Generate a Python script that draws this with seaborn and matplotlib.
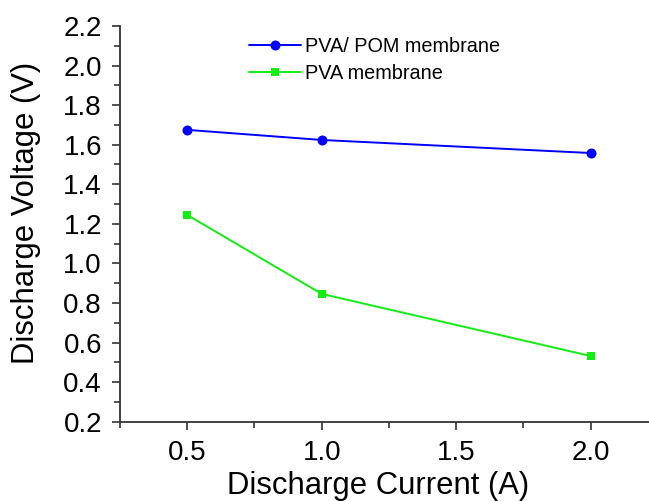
import matplotlib
matplotlib.use("Agg")
import matplotlib.pyplot as plt
import seaborn as sns
import pandas as pd
from matplotlib.ticker import MultipleLocator

currents = [0.5, 1.0, 2.0]
pva_pom = [1.675, 1.624, 1.558]
pva = [1.245, 0.846, 0.532]
series_names = ["PVA/ POM membrane", "PVA membrane"]
x_ticks = [0.5, 1.0, 1.5, 2.0]
x_tick_labels = ["0.5", "1.0", "1.5", "2.0"]
y_ticks = [0.2, 0.4, 0.6, 0.8, 1.0, 1.2, 1.4, 1.6, 1.8, 2.0, 2.2]
y_tick_labels = ["0.2", "0.4", "0.6", "0.8", "1.0", "1.2", "1.4", "1.6", "1.8", "2.0", "2.2"]

sns.set_style("ticks")
plt.rcParams['font.family'] = ['Liberation Sans', 'DejaVu Sans']
plt.rcParams['text.color'] = 'black'
plt.rcParams['axes.labelcolor'] = 'black'
plt.rcParams['xtick.color'] = 'black'
plt.rcParams['ytick.color'] = 'black'

df = pd.DataFrame({
    "current": currents * 2,
    "voltage": pva_pom + pva,
    "series": [series_names[0]] * 3 + [series_names[1]] * 3,
})

fig = plt.figure(figsize=(6.49, 5.01), dpi=100)
ax = fig.add_axes([120/649, (501-421.7)/501, (658-120)/649, (421.7-26)/501])

colors = {series_names[0]: "#0000ff", series_names[1]: "#11ee11"}
markers = {series_names[0]: "o", series_names[1]: "s"}
sizes = {series_names[0]: 7.2, series_names[1]: 6}
for name in series_names:
    sub = df[df.series == name]
    sns.lineplot(data=sub, x="current", y="voltage", ax=ax, color=colors[name],
                 marker=markers[name], markersize=sizes[name], markeredgewidth=0,
                 linewidth=1.4, label=name)

ax.set_xlim(0.25, 2.25)
ax.set_ylim(0.2, 2.2)
ax.xaxis.set_minor_locator(MultipleLocator(0.25))
ax.yaxis.set_minor_locator(MultipleLocator(0.1))
ax.set_xticks(x_ticks)
ax.set_xticklabels(x_tick_labels)
ax.set_yticks(y_ticks)
ax.set_yticklabels(y_tick_labels)

for s in ["top", "right"]:
    ax.spines[s].set_visible(False)
for s in ["left", "bottom"]:
    ax.spines[s].set_color("#333333")
    ax.spines[s].set_linewidth(1.3)
ax.tick_params(which="major", length=6, width=1.2, color="#333333", labelsize=20, pad=7, direction="out")
ax.tick_params(which="minor", length=4, width=1.2, color="#333333", direction="out")
ax.set_xlabel("Discharge Current (A)", fontsize=22.3, labelpad=4)
ax.set_ylabel("Discharge Voltage (V)", fontsize=22.3)
ax.xaxis.label.set_x((378 - 120) / 538)
ax.yaxis.set_label_coords((41 - 120) / 538, (421.7 - 212.5) / 395.7)

leg = ax.legend(loc="upper left", bbox_to_anchor=(249/649, 1 - 37/501), bbox_transform=fig.transFigure,
                frameon=False, fontsize=14.3, handlelength=2.6, handletextpad=0.2, labelspacing=0.4,
                borderaxespad=0, borderpad=0)

fig.savefig("out.png", dpi=100)
